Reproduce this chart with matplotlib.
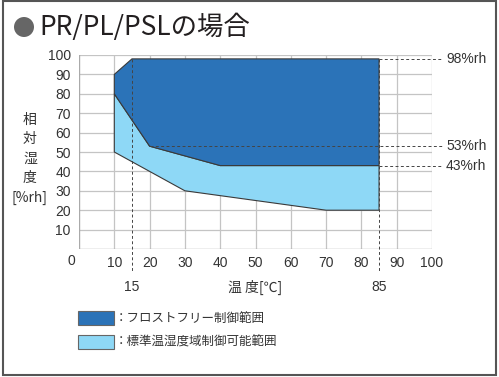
import matplotlib
matplotlib.use('Agg')
import matplotlib.pyplot as plt
from matplotlib.patches import Rectangle, Ellipse

plt.rcParams['font.family'] = ['Noto Sans CJK JP', 'DejaVu Sans']
num_font = ['Liberation Sans', 'Noto Sans CJK JP']

# frost-free control range (dark)
dark_x = [10, 15, 85, 85, 40, 20, 10]
dark_y = [90, 98, 98, 43, 43, 53, 80]
# standard temp/humidity range (light)
light_x = [10, 20, 40, 85, 85, 70, 30, 10]
light_y = [80, 53, 43, 43, 20, 20, 30, 50]

xticks = list(range(10, 101, 10))
yticks = list(range(10, 101, 10))
rh_marks = [98, 53, 43]
rh_start = [85, 20, 85]
t_marks = [15, 85]
legend_labels = ['：フロストフリー制御範囲', '：標準温湿度域制御可能範囲']

dark_c = '#2b73b8'
light_c = '#8ed8f6'
edge_c = '#3a3a3a'
txt_c = '#333333'

W, H = 499, 377
fig = plt.figure(figsize=(W / 100, H / 100), dpi=100)

def px(x0, y0):
    return x0 / W, 1 - y0 / H

ax = fig.add_axes([79 / W, 1 - 249 / H, (432 - 79) / W, (249 - 55) / H])
ax.set_xlim(0, 100)
ax.set_ylim(0, 100)

# grid
for v in xticks:
    ax.axvline(v, color='#c4c4c4', lw=0.9, zorder=0)
for v in yticks:
    ax.axhline(v, color='#c4c4c4', lw=0.9, zorder=0)
for s in ax.spines.values():
    s.set_visible(False)
ax.axvline(0, color='#aaaaaa', lw=1.0, zorder=0)
ax.axhline(0, color='#aaaaaa', lw=1.0, zorder=0)

ax.fill(light_x, light_y, facecolor=light_c, edgecolor=edge_c, lw=0.8, zorder=2)
ax.fill(dark_x, dark_y, facecolor=dark_c, edgecolor=edge_c, lw=0.8, zorder=3)

# dashed guide lines
for t in t_marks:
    ax.plot([t, t], [98, -12], ls=(0, (3, 2.5)), color='#444444', lw=0.7,
            clip_on=False, zorder=4)
for v, x0 in zip(rh_marks, rh_start):
    ax.plot([x0, 102.7], [v, v], ls=(0, (3, 2.5)), color='#444444', lw=0.7,
            clip_on=False, zorder=4)
    ax.text(104, v, '%d%%rh' % v, fontsize=10, family=num_font, color=txt_c,
            va='center', ha='left', clip_on=False)

ax.set_xticks(xticks)
ax.set_yticks(yticks)
ax.set_xticklabels([str(v) for v in xticks], fontsize=10, family=num_font,
                   color=txt_c)
ax.set_yticklabels([str(v) for v in yticks], fontsize=10, family=num_font,
                   color=txt_c)
ax.tick_params(length=0, pad=6)
ax.tick_params(axis='x', pad=5)
ax.text(-2.3, -6.2, '0', fontsize=10, family=num_font, color=txt_c,
        ha='center', va='center')

for t in t_marks:
    ax.text(t, -19.6, str(t), fontsize=10, family=num_font, color=txt_c,
            ha='center', va='center')
ax.text(50, -19.6, '温 度[℃]', fontsize=10, color=txt_c, ha='center',
        va='center')

ax.text(-13.9, 46.6, '相\n対\n湿\n度\n[%rh]', fontsize=10, color=txt_c,
        ha='center', va='center', linespacing=1.5)

# title
fig.patches.append(Ellipse(px(24, 27), 20 / W, 20 / H,
                           transform=fig.transFigure,
                           facecolor='#666666', edgecolor='none'))
fig.text(*px(39, 27), 'PR/PL/PSLの場合', fontsize=19, color='#231f20',
         ha='left', va='center')

# legend
for i, (lab, c) in enumerate(zip(legend_labels, [dark_c, light_c])):
    y0 = 311 + i * 24
    x0, y1 = px(78, y0 + 14)
    fig.patches.append(Rectangle((x0, y1), 36 / W, 14 / H,
                                 transform=fig.transFigure, facecolor=c,
                                 edgecolor='#666666', lw=0.8))
    fig.text(*px(115, y0 + 7), lab, fontsize=9, color=txt_c, ha='left',
             va='center')

# outer frame
fig.patches.append(Rectangle(px(2.5, 375), 493 / W, 374 / H,
                             transform=fig.transFigure, facecolor='none',
                             edgecolor='#555555', lw=1.5))

fig.savefig('out.png', dpi=100)
